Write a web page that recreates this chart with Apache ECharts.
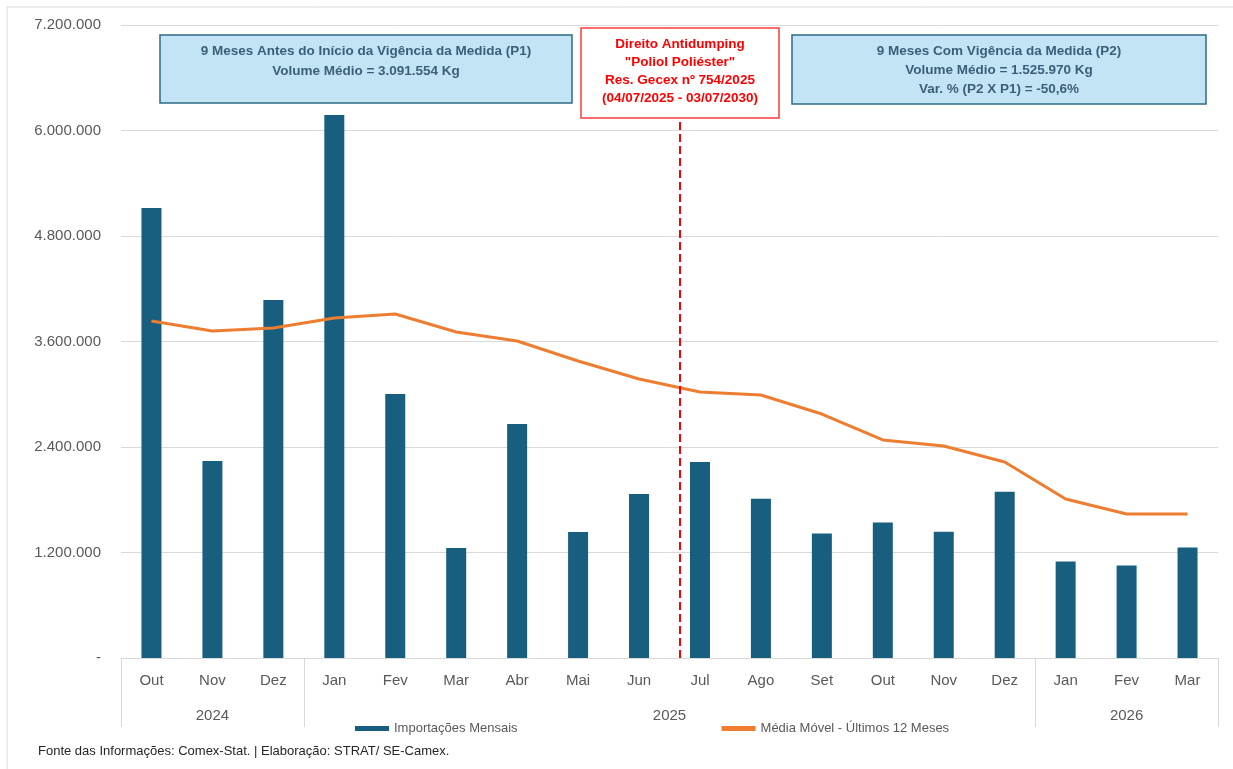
<!DOCTYPE html>
<html>
<head>
<meta charset="utf-8">
<script src="https://cdn.jsdelivr.net/npm/echarts@6/dist/echarts.min.js"></script>
<style>
  html, body { margin: 0; padding: 0; background: #fff; }
  #main { width: 1233px; height: 769px; }
</style>
</head>
<body>
<div id="main"></div>
<script>
// dados
const meses = ['Out', 'Nov', 'Dez', 'Jan', 'Fev', 'Mar', 'Abr', 'Mai', 'Jun',
  'Jul', 'Ago', 'Set', 'Out', 'Nov', 'Dez', 'Jan', 'Fev', 'Mar']
const anos = ['2024', '2025', '2026']
const mesesPorAno = [3, 12, 3]
const importacoes = [5118000, 2241000, 4072000, 6176000, 3003000, 1251000, 2662000, 1433000, 1865000,
  2230000, 1810000, 1415000, 1540000, 1437000, 1890000, 1097000, 1052000, 1256000]
const mediaMovel = [3833000, 3719000, 3754000, 3867000, 3913000, 3708000, 3606000, 3378000, 3173000,
  3025000, 2991000, 2775000, 2480000, 2411000, 2229000, 1808000, 1638000, 1638000]
const yTicks = [0, 1200000, 2400000, 3600000, 4800000, 6000000, 7200000]
const inicioMedida = 9.17   // posicao da linha tracejada (em meses)

const narrow = "'Liberation Sans Narrow', 'Liberation Sans', sans-serif"

// separadores e centros dos anos
const separadores = [0]
const centrosAnos = []
mesesPorAno.forEach(n => {
  const ini = separadores[separadores.length - 1]
  centrosAnos.push(ini + n / 2)
  separadores.push(ini + n)
})

function fmt(v) {
  if (v === 0) return '-'
  return String(Math.round(v)).replace(/\B(?=(\d{3})+(?!\d))/g, '.')
}

function caixa(x, y, w, h, fill, stroke, lines, color, lineH, textTop) {
  return {
    type: 'group',
    children: [
      { type: 'rect', shape: { x: x, y: y, width: w, height: h },
        style: { fill: fill, stroke: stroke, lineWidth: 1.5 } },
      { type: 'text', x: x + w / 2, y: textTop,
        style: { text: lines.join('\n'), fill: color, font: 'bold 13.5px ' + narrow,
          textAlign: 'center', textVerticalAlign: 'top', lineHeight: lineH } }
    ]
  }
}

const chart = echarts.init(document.getElementById('main'))

chart.setOption({
  animation: false,
  backgroundColor: '#fff',
  grid: { left: 121, right: 15, top: 25, bottom: 111 },
  legend: {
    left: 350, top: 717, itemGap: 204, itemWidth: 34, itemHeight: 5,
    textStyle: { color: '#595959', fontSize: 13, fontFamily: narrow },
    data: [
      { name: 'Importações Mensais', icon: 'rect' },
      { name: 'Média Móvel - Últimos 12 Meses', icon: 'rect' }
    ]
  },
  xAxis: [
    {
      type: 'category', data: meses, boundaryGap: true,
      axisLine: { lineStyle: { color: '#d9d9d9' } },
      axisTick: { show: false },
      axisLabel: { color: '#595959', fontSize: 15, fontFamily: narrow, margin: 15 }
    },
    {
      type: 'value', min: 0, max: meses.length, position: 'bottom',
      axisLine: { show: false }, splitLine: { show: false },
      axisTick: { show: true, customValues: separadores, length: 69,
        lineStyle: { color: '#d9d9d9' } },
      axisLabel: {
        customValues: centrosAnos, color: '#595959', fontSize: 15, fontFamily: narrow, margin: 50,
        formatter: v => anos[centrosAnos.indexOf(v)] || ''
      }
    }
  ],
  yAxis: {
    type: 'value', min: 0, max: yTicks[yTicks.length - 1], interval: yTicks[1],
    axisLine: { show: false }, axisTick: { show: false },
    splitLine: { lineStyle: { color: '#d9d9d9' } },
    axisLabel: { color: '#595959', fontSize: 15, fontFamily: "'Liberation Sans', sans-serif",
      margin: 20, formatter: fmt }
  },
  series: [
    {
      name: 'Importações Mensais', type: 'bar', data: importacoes, barWidth: 20,
      itemStyle: { color: '#175e7f' }
    },
    {
      name: 'Média Móvel - Últimos 12 Meses', type: 'line', data: mediaMovel,
      symbol: 'none', lineStyle: { color: '#ed7d31', width: 3 }, itemStyle: { color: '#ed7d31' }
    },
    {
      name: 'marco', type: 'line', xAxisIndex: 1, data: [], silent: true,
      markLine: {
        symbol: 'none', silent: true, label: { show: false },
        lineStyle: { color: '#ff0000', type: [8, 4], width: 2 },
        data: [[{ coord: [inicioMedida, 0] }, { coord: [inicioMedida, 6100000] }]]
      }
    }
  ],
  graphic: [
    { type: 'rect', shape: { x: 7, y: 7, width: 1260, height: 800 },
      style: { fill: 'none', stroke: '#d9d9d9', lineWidth: 1 } },
    caixa(160, 35, 412, 68, '#c3e4f5', '#2f6a88',
      ['9 Meses Antes do Início da Vigência da Medida (P1)', 'Volume Médio = 3.091.554 Kg'],
      '#3a5f78', 20, 41),
    caixa(581, 28, 198, 90, '#ffffff', '#ff3b3b',
      ['Direito Antidumping', '"Poliol Poliéster"', 'Res. Gecex nº 754/2025', '(04/07/2025 - 03/07/2030)'],
      '#ff0000', 18, 35),
    caixa(792, 35, 414, 69, '#c3e4f5', '#2f6a88',
      ['9 Meses Com Vigência da Medida (P2)', 'Volume Médio = 1.525.970 Kg', 'Var. % (P2 X P1) = -50,6%'],
      '#3a5f78', 19, 42),
    { type: 'text', x: 38, y: 751,
      style: { text: 'Fonte das Informações: Comex-Stat. | Elaboração: STRAT/ SE-Camex.',
        fill: '#262626', font: '13px ' + narrow, textVerticalAlign: 'middle' } }
  ]
})
</script>
</body>
</html>
